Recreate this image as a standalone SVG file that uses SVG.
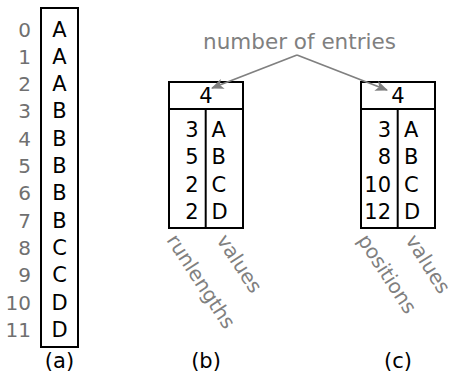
<svg xmlns="http://www.w3.org/2000/svg" width="452" height="379" viewBox="0 0 452 379">
<style>
.box{fill:none;stroke:#000;stroke-width:2}
.t{font-family:"DejaVu Sans",sans-serif;font-size:21px;fill:#000}
.idx{font-family:"DejaVu Sans",sans-serif;font-size:20px;fill:#707070;text-anchor:end}
.g{font-family:"DejaVu Sans",sans-serif;font-size:20px;fill:#808080}
.cap{font-family:"DejaVu Sans",sans-serif;font-size:21px;fill:#000;text-anchor:middle}
.c{text-anchor:middle}
.r{text-anchor:end}
.conn{fill:none;stroke:#808080;stroke-width:1.8}
</style>
<defs>
<marker id="ah" viewBox="0 0 12 10" refX="11" refY="5" markerWidth="7" markerHeight="6" orient="auto" markerUnits="strokeWidth">
<path d="M0,0 L12,5 L0,10 L3,5 Z" fill="#808080"/>
</marker>
</defs>
<g id="panel-a">
<rect class="box" x="41" y="8" width="37" height="339"/>
<g class="idx">
<text x="31" y="36.5">0</text>
<text x="31" y="63.8">1</text>
<text x="31" y="91.1">2</text>
<text x="31" y="118.4">3</text>
<text x="31" y="145.7">4</text>
<text x="31" y="173">5</text>
<text x="31" y="200.3">6</text>
<text x="31" y="227.6">7</text>
<text x="31" y="254.9">8</text>
<text x="31" y="282.2">9</text>
<text x="31" y="309.5">10</text>
<text x="31" y="336.8">11</text>
</g>
<g class="t c">
<text x="59.5" y="36.5">A</text>
<text x="59.5" y="63.8">A</text>
<text x="59.5" y="91.1">A</text>
<text x="59.5" y="118.4">B</text>
<text x="59.5" y="145.7">B</text>
<text x="59.5" y="173">B</text>
<text x="59.5" y="200.3">B</text>
<text x="59.5" y="227.6">B</text>
<text x="59.5" y="254.9">C</text>
<text x="59.5" y="282.2">C</text>
<text x="59.5" y="309.5">D</text>
<text x="59.5" y="336.8">D</text>
</g>
<text class="cap" x="59.5" y="368">(a)</text>
</g>
<g id="panel-b">
<rect class="box" x="169" y="82" width="74" height="146"/>
<line class="box" x1="169" y1="109" x2="243" y2="109"/>
<line class="box" x1="205.7" y1="109" x2="205.7" y2="228"/>
<text class="t c" x="206" y="103">4</text>
<g class="t r">
<text x="198.5" y="137">3</text>
<text x="198.5" y="164.3">5</text>
<text x="198.5" y="191.6">2</text>
<text x="198.5" y="218.9">2</text>
</g>
<g class="t">
<text x="211.5" y="137">A</text>
<text x="211.5" y="164.3">B</text>
<text x="211.5" y="191.6">C</text>
<text x="211.5" y="218.9">D</text>
</g>
<text class="g" transform="translate(166,240) rotate(57)">runlengths</text>
<text class="g" transform="translate(216,240) rotate(57)">values</text>
<text class="cap" x="206" y="368">(b)</text>
</g>
<g id="panel-c">
<rect class="box" x="361" y="82" width="74" height="146"/>
<line class="box" x1="361" y1="109" x2="435" y2="109"/>
<line class="box" x1="397.7" y1="109" x2="397.7" y2="228"/>
<text class="t c" x="398" y="103">4</text>
<g class="t r">
<text x="391" y="137">3</text>
<text x="391" y="164.3">8</text>
<text x="391" y="191.6">10</text>
<text x="391" y="218.9">12</text>
</g>
<g class="t">
<text x="404" y="137">A</text>
<text x="404" y="164.3">B</text>
<text x="404" y="191.6">C</text>
<text x="404" y="218.9">D</text>
</g>
<text class="g" transform="translate(357,240) rotate(57)">positions</text>
<text class="g" transform="translate(405,240) rotate(58)">values</text>
<text class="cap" x="398" y="368">(c)</text>
</g>
<g id="label-entries">
<text class="g c" x="299.5" y="49" style="font-size:21.5px">number of entries</text>
</g>
<g id="connectors">
<line class="conn" x1="297" y1="55" x2="212" y2="88" marker-end="url(#ah)"/>
<line class="conn" x1="297" y1="55" x2="387" y2="90" marker-end="url(#ah)"/>
</g>
</svg>
